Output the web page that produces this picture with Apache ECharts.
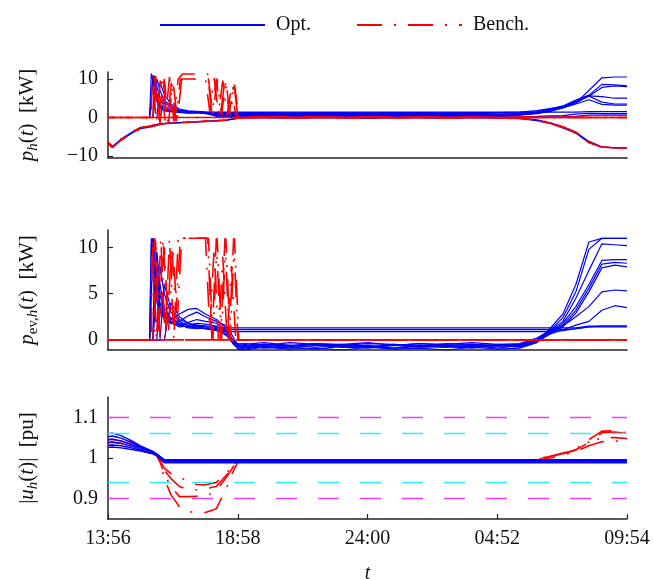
<!DOCTYPE html>
<html>
<head>
<meta charset="utf-8">
<script src="https://cdn.jsdelivr.net/npm/echarts@6.0.0/dist/echarts.min.js"></script>
<style>
  html, body { margin: 0; padding: 0; background: #fff; }
  #chart { width: 653px; height: 579px; }
</style>
</head>
<body>
<div id="chart"></div>
<script>
// x axis: minutes since 13:56
const tickPos = [0, 299.5, 599, 898.5, 1198];
const tickLabels = ["13:56", "18:58", "24:00", "04:52", "09:54"];

// common time grid (minutes)
const T = [0, 10, 30, 55, 75, 96, 100, 104, 108, 113, 120, 130, 145, 165, 185, 205, 225, 250, 275, 290,
  300, 315, 360, 420, 480, 540, 600, 660, 720, 780, 840, 900, 950, 990, 1020, 1050, 1080, 1110, 1140, 1170, 1198];

// on/off switching of the benchmark chargers
const oscT1 = [0, 100, 102, 112, 122, 132, 142, 152, 162, 172, 230, 240, 250, 260, 270, 280, 290, 300, 1198];
const oscT2 = [0, 104, 107, 117, 127, 137, 147, 157, 167, 177, 225, 235, 245, 255, 265, 275, 285, 295, 305, 1198];
const oscT3 = [0, 108, 110, 120, 130, 140, 150, 160, 170, 232, 242, 252, 262, 272, 282, 292, 302, 1198];

const zeroT = [0, 1198];
const zeroV = [0, 0];

// ---- p_h(t) [kW], Opt.
const pA = [0, 0, 0, 0, 0, 0, 11.4, 9.5, 6.5, 4.0, 2.5, 1.8, 1.5, 1.6, 1.5, 1.6, 1.4, 1.3, 1.3, 1.2,
  1.3, 1.3, 1.3, 1.2, 1.3, 1.3, 1.2, 1.3, 1.3, 1.2, 1.3, 1.3, 1.4, 1.8, 2.3, 2.8, 3.8, 7.0, 10.3, 10.5, 10.5];
const pB = [0, 0, 0, 0, 0, 0, 0, 11.0, 9.0, 6.0, 3.5, 2.2, 1.8, 1.4, 1.2, 1.3, 1.1, 1.0, 0.9, 0.8,
  0.9, 0.8, 0.9, 0.8, 0.9, 0.8, 0.9, 0.8, 0.9, 0.8, 0.9, 0.8, 1.0, 1.5, 2.2, 3.0, 4.5, 5.8, 8.6, 8.5, 8.2];
const pC = [0, 0, 0, 0, 0, 0, 0, 0, 10.8, 8.0, 5.0, 2.8, 2.0, 1.8, 1.6, 1.5, 1.3, 0.7, 0.6, 0.5,
  0.6, 0.5, 0.6, 0.5, 0.6, 0.5, 0.6, 0.5, 0.6, 0.5, 0.6, 0.5, 0.7, 1.2, 2.0, 2.8, 4.2, 5.5, 7.8, 8.2, 8.0];
const pD = [0, 0, 0, 0, 0, 0, 0, 9.8, 8.0, 5.0, 3.0, 2.0, 1.6, 1.3, 1.1, 1.2, 1.0, 0.5, 0.4, 0.5,
  0.4, 0.5, 0.4, 0.5, 0.4, 0.5, 0.4, 0.5, 0.4, 0.5, 0.4, 0.5, 0.6, 1.0, 1.6, 2.5, 3.8, 5.6, 5.4, 5.0, 5.0];
const pE = [0, 0, 0, 0, 0, 0, 0, 0, 0, 10.0, 7.0, 4.5, 3.0, 1.9, 1.5, 1.4, 1.2, 0.6, 0.7, 0.6,
  0.7, 0.6, 0.7, 0.6, 0.7, 0.6, 0.7, 0.6, 0.7, 0.6, 0.7, 0.6, 0.8, 1.1, 1.6, 2.6, 4.2, 5.5, 4.0, 3.5, 3.5];
const pF = [0, 0, 0, 0, 0, 0, 0, 0, 0, 0, 9.0, 6.0, 3.5, 2.2, 1.7, 1.5, 1.3, 1.0, 1.0, 1.1,
  1.0, 1.0, 1.1, 1.0, 1.0, 1.1, 1.0, 1.0, 1.1, 1.0, 1.0, 1.1, 1.1, 1.4, 1.9, 2.5, 3.5, 4.6, 3.4, 3.2, 3.2];
const pG = [0, 0, 0, 0, 0, 0, 0, 0, 7.0, 5.0, 3.0, 2.0, 1.6, 1.5, 1.5, 1.4, 1.4, 1.4, 1.4, 1.4,
  1.4, 1.4, 1.4, 1.4, 1.4, 1.4, 1.4, 1.4, 1.4, 1.4, 1.4, 1.4, 1.4, 1.4, 1.4, 1.4, 1.4, 1.5, 1.5, 1.5, 1.5];
const pH = [0, 0, 0, 0, 0, 0, 0, 0, 0, 0, 0, 4.0, 2.5, 1.8, 1.6, 1.5, 1.3, 0.3, 0.2, 0.3,
  0.2, 0.3, 0.2, 0.3, 0.2, 0.3, 0.2, 0.3, 0.2, 0.3, 0.2, 0.3, 0.2, 0.3, 0.4, 0.5, 0.9, 1.1, 1.0, 1.0, 1.0];
const pI = [0, 0, 0, 0, 0, 0, 0, 0, 0, 0, 0, 0, 0, 0, 0, 0, 0, 0, 0, 0,
  0, 0, 0, 0, 0, 0, 0, 0, 0, 0, 0, 0, 0, 0, 0.1, 0.2, 0.3, 0.6, 0.6, 0.6, 0.6];
// households with PV only
const pvA = [-6.7, -7.8, -5.9, -4.1, -2.9, -2.5, -2.4, -2.3, -2.2, -2.0, -1.8, -1.6, -1.5, -1.4, -1.3, -1.2, -1.0, -0.9, -0.7, -0.4,
  -0.1, 0, 0, 0, 0, 0, 0, 0, 0, 0, 0, -0.1, -0.2, -0.6, -1.3, -2.4, -3.8, -6.2, -7.6, -7.9, -7.9];
const pvB = [-6.4, -7.5, -5.6, -3.8, -2.6, -2.2, -2.1, -2.0, -1.9, -1.8, -1.6, -1.5, -1.4, -1.3, -1.2, -1.1, -0.9, -0.8, -0.6, -0.3,
  -0.2, -0.1, -0.1, -0.2, -0.1, -0.1, -0.2, -0.1, -0.1, -0.2, -0.1, -0.1, -0.3, -0.8, -1.5, -2.7, -4.1, -6.5, -7.7, -7.8, -7.8];
// p_h, Bench.
const bA1 = [0, 0, 11.3, -1.3, 11.0, -1.2, 10.5, -1.0, 10.0, 11.3, 11.3, 0.8, 10.0, 1.0, 9.8, 1.2, 9.0, 0.2, 0];
const bB1 = [0, 0, 10.5, -1.5, 10.2, -1.3, 9.8, -1.0, 10.0, 10.0, 10.0, 1.5, 10.2, 1.0, 9.6, 0.6, 8.0, 0.3, 0, 0];
const bC1 = [0, 0, 10.8, -1.4, 10.0, -1.2, 9.8, -0.8, 10.0, 10.0, 0.8, 10.0, 0.6, 9.5, 0.5, 8.5, 0.2, 0];

// ---- p_ev,h(t) [kW], Opt.
const eA = [0, 0, 0, 0, 0, 0, 11, 8.5, 6, 4, 3, 2.5, 2.2, 2.8, 3.3, 3.4, 2.8, 2.2, 1.2, -0.5,
  -0.9, -1.0, -0.7, -0.9, -0.6, -0.8, -0.9, -0.6, -0.8, -0.7, -0.9, -0.6, -0.8, -0.2, 1.2, 2.8, 6.0, 10.6, 11, 11, 11];
const eB = [0, 0, 0, 0, 0, 0, 0, 11, 9, 6, 3.5, 2.6, 2.0, 2.0, 2.6, 3.0, 2.5, 2.0, 1.5, 0.2,
  -0.6, -0.8, -0.5, -0.7, -0.4, -0.6, -0.8, -0.5, -0.7, -0.6, -0.5, -0.7, -0.5, 0.0, 1.0, 2.4, 5.2, 9.8, 11, 11, 11];
const eC = [0, 0, 0, 0, 0, 0, 10.5, 11, 7, 4.5, 3.2, 2.2, 1.8, 1.6, 1.9, 2.2, 2.0, 1.8, 1.0, -0.2,
  -0.4, -0.5, -0.3, -0.6, -0.4, -0.5, -0.3, -0.6, -0.4, -0.5, -0.3, -0.5, -0.4, 0.2, 1.0, 2.0, 4.5, 7.5, 10.4, 10.3, 10.2];
const eD = [0, 0, 0, 0, 0, 0, 0, 0, 11, 8, 5, 3, 2.4, 1.8, 1.6, 1.8, 1.7, 1.5, 0.8, -0.3,
  -0.7, -0.9, -0.6, -0.8, -1.0, -0.7, -0.6, -0.9, -0.7, -0.8, -0.6, -0.9, -0.6, 0.0, 0.9, 1.8, 3.6, 6.0, 8.6, 8.7, 8.7];
const eE = [0, 0, 0, 0, 0, 0, 0, 10, 10.8, 7, 4, 2.8, 1.9, 1.4, 1.5, 1.6, 1.5, 1.4, 0.9, -0.1,
  -0.5, -0.4, -0.6, -0.3, -0.5, -0.6, -0.4, -0.5, -0.7, -0.4, -0.5, -0.6, -0.5, 0.1, 0.8, 1.6, 3.2, 5.6, 8.2, 8.4, 8.3];
const eF = [0, 0, 0, 0, 0, 0, 0, 0, 0, 9.5, 6, 3.5, 2.3, 1.7, 1.3, 1.2, 1.3, 1.2, 0.6, -0.4,
  -1.0, -1.1, -0.8, -1.0, -0.9, -1.1, -0.8, -1.0, -0.9, -1.1, -0.8, -1.0, -0.9, -0.3, 0.7, 1.4, 2.9, 5.2, 7.8, 8.1, 7.9];
const eG = [0, 0, 0, 0, 0, 0, 0, 0, 0, 0, 8, 5, 3, 2.0, 1.5, 1.4, 1.2, 1.1, 0.5, -0.3,
  -0.6, -0.7, -0.5, -0.6, -0.8, -0.5, -0.7, -0.6, -0.4, -0.6, -0.7, -0.5, -0.6, -0.1, 0.8, 1.5, 2.5, 3.6, 5.2, 5.4, 5.3];
const eH = [0, 0, 0, 0, 0, 0, 0, 0, 0, 0, 0, 6, 3.5, 2.2, 1.8, 1.6, 1.5, 1.2, 0.4, -0.5,
  -0.8, -0.6, -0.9, -0.7, -0.5, -0.8, -0.7, -0.9, -0.6, -0.8, -0.7, -0.6, -0.7, -0.2, 0.6, 1.1, 1.6, 2.0, 3.2, 3.7, 3.5];
const eI = [0, 0, 0, 0, 0, 0, 0, 0, 8, 6, 3.5, 2.4, 1.8, 1.5, 1.4, 1.5, 1.4, 1.3, 1.3, 1.3,
  1.3, 1.3, 1.3, 1.3, 1.3, 1.3, 1.3, 1.3, 1.3, 1.3, 1.3, 1.3, 1.3, 1.3, 1.3, 1.3, 1.3, 1.5, 1.5, 1.5, 1.5];
const eJ = [0, 0, 0, 0, 0, 0, 0, 0, 0, 7, 5, 3, 2.0, 1.6, 1.4, 1.3, 1.2, 1.1, 1.1, 1.1,
  1.1, 1.1, 1.1, 1.1, 1.1, 1.1, 1.1, 1.1, 1.1, 1.1, 1.1, 1.1, 1.1, 1.1, 1.1, 1.1, 1.2, 1.4, 1.5, 1.5, 1.5];
const eK = [0, 0, 0, 0, 0, 0, 0, 0, 0, 0, 0, 0, 4, 2.5, 1.8, 1.5, 1.2, 1.0, 0.9, 0.9,
  0.9, 0.9, 0.9, 0.9, 0.9, 0.9, 0.9, 0.9, 0.9, 0.9, 0.9, 0.9, 0.9, 0.9, 0.9, 1.0, 1.2, 1.4, 1.4, 1.4, 1.4];
// p_ev,h, Bench.
const bA2 = [0, 0, 11, 0, 11, 0, 11, 0, 11, 11, 11, 0, 11, 0, 11, 0, 11, 0, 0];
const bB2 = [0, 0, 11, 1, 11, 2, 10, 3, 11, 11, 11, 1, 10, 0, 9, 0, 8, 0, 0, 0];
const bC2 = [0, 0, 11, 0, 10, 1, 10, 2, 11, 11, 0, 11, 0, 11, 0, 11, 0, 0];

// ---- |u_h(t)| [pu], Opt.
const vA = [1.060, 1.061, 1.055, 1.042, 1.030, 1.020, 1.018, 1.016, 1.014, 1.010, 1.004, 0.996, 0.996, 0.996, 0.996, 0.996, 0.996, 0.996, 0.996, 0.996,
  0.996, 0.996, 0.996, 0.996, 0.996, 0.996, 0.996, 0.996, 0.996, 0.996, 0.996, 0.996, 0.996, 0.996, 0.996, 0.996, 0.996, 0.996, 0.996, 0.996, 0.996];
const vB = [1.052, 1.054, 1.049, 1.038, 1.027, 1.018, 1.017, 1.015, 1.013, 1.009, 1.003, 0.994, 0.994, 0.994, 0.994, 0.994, 0.994, 0.994, 0.994, 0.994,
  0.994, 0.994, 0.994, 0.994, 0.994, 0.994, 0.994, 0.994, 0.994, 0.994, 0.994, 0.994, 0.994, 0.994, 0.994, 0.994, 0.994, 0.994, 0.994, 0.994, 0.994];
const vC = [1.045, 1.046, 1.042, 1.033, 1.025, 1.017, 1.016, 1.014, 1.012, 1.008, 1.002, 0.993, 0.993, 0.993, 0.993, 0.993, 0.993, 0.993, 0.993, 0.993,
  0.993, 0.993, 0.993, 0.993, 0.993, 0.993, 0.993, 0.993, 0.993, 0.993, 0.993, 0.993, 0.993, 0.993, 0.993, 0.993, 0.993, 0.993, 0.993, 0.993, 0.993];
const vD = [1.038, 1.039, 1.036, 1.029, 1.022, 1.015, 1.014, 1.013, 1.011, 1.007, 1.001, 0.991, 0.991, 0.991, 0.991, 0.991, 0.991, 0.991, 0.991, 0.991,
  0.991, 0.991, 0.991, 0.991, 0.991, 0.991, 0.991, 0.991, 0.991, 0.991, 0.991, 0.991, 0.991, 0.991, 0.991, 0.991, 0.991, 0.991, 0.991, 0.991, 0.991];
const vE = [1.031, 1.032, 1.030, 1.025, 1.019, 1.013, 1.012, 1.011, 1.010, 1.006, 1.000, 0.990, 0.990, 0.990, 0.990, 0.990, 0.990, 0.990, 0.990, 0.990,
  0.990, 0.990, 0.990, 0.990, 0.990, 0.990, 0.990, 0.990, 0.990, 0.990, 0.990, 0.990, 0.990, 0.990, 0.990, 0.990, 0.990, 0.990, 0.990, 0.990, 0.990];
const vF = [1.026, 1.027, 1.025, 1.021, 1.017, 1.012, 1.011, 1.010, 1.009, 1.005, 0.999, 0.988, 0.988, 0.988, 0.988, 0.988, 0.988, 0.988, 0.988, 0.988,
  0.988, 0.988, 0.988, 0.988, 0.988, 0.988, 0.988, 0.988, 0.988, 0.988, 0.988, 0.988, 0.988, 0.988, 0.988, 0.988, 0.988, 0.988, 0.988, 0.988, 0.988];
// |u_h|, Bench.
const rvA = [1.045, 1.046, 1.042, 1.033, 1.025, 1.017, 1.016, 1.014, 1.012, 1.005, 0.995, 0.975, 0.962, 0.955, 0.940, 0.935, 0.934, 0.940, 0.965, 0.985,
  0.993, 0.993, 0.993, 0.993, 0.993, 0.993, 0.993, 0.993, 0.993, 0.993, 0.993, 0.993, 0.993, 0.998, 1.004, 1.012, 1.022, 1.045, 1.066, 1.067, 1.062];
const rvB = [1.038, 1.039, 1.036, 1.029, 1.022, 1.015, 1.014, 1.013, 1.011, 1.007, 0.990, 0.960, 0.930, 0.905, 0.905, 0.906, 0.905, 0.920, 0.955, 0.980,
  0.993, 0.993, 0.993, 0.993, 0.993, 0.993, 0.993, 0.993, 0.993, 0.993, 0.993, 0.993, 0.993, 0.996, 1.002, 1.010, 1.020, 1.038, 1.050, 1.050, 1.048];
const rvC = [1.031, 1.032, 1.030, 1.025, 1.019, 1.013, 1.012, 1.011, 1.010, 1.006, 0.990, 0.950, 0.910, 0.880, 0.868, 0.866, 0.866, 0.875, 0.930, 0.970,
  0.990, 0.992, 0.992, 0.992, 0.992, 0.992, 0.992, 0.992, 0.992, 0.992, 0.992, 0.992, 0.992, 0.995, 1.000, 1.007, 1.016, 1.030, 1.040, 1.042, 1.040];
const rvD = [1.052, 1.054, 1.049, 1.038, 1.027, 1.018, 1.017, 1.015, 1.013, 1.009, 0.995, 0.970, 0.950, 0.930, 0.922, 0.922, 0.924, 0.930, 0.960, 0.985,
  0.993, 0.993, 0.993, 0.993, 0.993, 0.993, 0.993, 0.993, 0.993, 0.993, 0.993, 0.993, 0.993, 0.997, 1.003, 1.011, 1.020, 1.040, 1.062, 1.064, 1.060];

const vLimOuter = [0.9, 1.1];
const vLimInner = [0.94, 1.06];

const FONT = "Liberation Serif";
const INK = "#111";

function pts(xs, ys) {
  return xs.map((x, i) => [x, ys[i]]);
}

function opt(k, ys, z, w) {
  return {
    name: "Opt.", type: "line", xAxisIndex: k, yAxisIndex: k,
    data: pts(T, ys), symbol: "none", silent: true, z: z,
    color: "#0000ff",
    lineStyle: { color: "#0000ff", width: w || 1.2 },
  };
}

function bench(k, xs, ys, z, offset) {
  return {
    name: "Bench.", type: "line", xAxisIndex: k, yAxisIndex: k,
    data: pts(xs, ys), symbol: "none", silent: true, z: z,
    color: "#ff0000",
    lineStyle: { color: "#ff0000", width: 1.6, type: [25, 12, 2, 12], dashOffset: offset || 0 },
  };
}

const grids = [
  { left: 108, width: 519, top: 72, height: 86, outerBoundsMode: "none" },
  { left: 108, width: 519, top: 230, height: 120, outerBoundsMode: "none" },
  { left: 108, width: 519, top: 397, height: 122, outerBoundsMode: "none" },
];
const yRanges = [[-10.5, 11.8], [-1.1, 11.9], [0.85, 1.15]];
const yTicks = [[-10, 0, 10], [0, 5, 10], [0.9, 1, 1.1]];

const nameRich = {
  i: { fontFamily: FONT, fontStyle: "italic", fontSize: 21, lineHeight: 27, color: INK },
  n: { fontFamily: FONT, fontSize: 21, lineHeight: 27, color: INK },
  s: { fontFamily: FONT, fontSize: 15, lineHeight: 15, verticalAlign: "bottom", color: INK },
  si: { fontFamily: FONT, fontStyle: "italic", fontSize: 15, lineHeight: 15, verticalAlign: "bottom", color: INK },
};
const yNames = [
  "{i|p}{si|h}{n|(}{i|t}{n|)  [kW]}",
  "{i|p}{s|ev,}{si|h}{n|(}{i|t}{n|)  [kW]}",
  "{n||}{i|u}{si|h}{n|(}{i|t}{n|)|  [pu]}",
];

const axisLine = { show: true, onZero: false, lineStyle: { color: "#222", width: 1.5 } };

const xAxes = grids.map((g, k) => ({
  type: "value", gridIndex: k, min: 0, max: 1198,
  axisLine: axisLine,
  splitLine: { show: false },
  axisTick: k === 2
    ? { show: true, inside: true, length: 5, customValues: tickPos, lineStyle: { color: "#222", width: 1.2 } }
    : { show: false },
  axisLabel: k === 2
    ? {
        show: true, customValues: tickPos, margin: 10,
        fontFamily: FONT, fontSize: 20, color: INK,
        formatter: (v) => tickLabels[tickPos.findIndex((p) => Math.abs(p - v) < 1)],
      }
    : { show: false },
  name: k === 2 ? "t" : "",
  nameLocation: "middle", nameGap: 45,
  nameTextStyle: { fontFamily: FONT, fontStyle: "italic", fontSize: 20, color: INK },
}));

const yAxes = grids.map((g, k) => ({
  type: "value", gridIndex: k, min: yRanges[k][0], max: yRanges[k][1],
  axisLine: axisLine,
  splitLine: { show: false },
  axisTick: { show: true, inside: true, length: 5, customValues: yTicks[k], lineStyle: { color: "#222", width: 1.2 } },
  axisLabel: {
    customValues: yTicks[k], margin: 10,
    fontFamily: FONT, fontSize: 20, color: INK,
    formatter: (v) => (v < 0 ? "\u2212" + Math.abs(v) : String(v)),
  },
  name: yNames[k], nameLocation: "middle", nameRotate: 90, nameGap: 67,
  nameTextStyle: { rich: nameRich },
}));

const limitSeries = {
  name: "limits", type: "line", xAxisIndex: 2, yAxisIndex: 2,
  data: [], symbol: "none", silent: true, z: 1,
  markLine: {
    silent: true, symbol: ["none", "none"], label: { show: false },
    lineStyle: { type: [21, 21], width: 1.3 },
    data: [
      ...vLimOuter.map((v) => ({ yAxis: v, lineStyle: { color: "#f03cf0", type: [21, 21], width: 1.3 } })),
      ...vLimInner.map((v) => ({ yAxis: v, lineStyle: { color: "#2ff0f0", type: [21, 21], width: 1.3 } })),
    ],
  },
};

const series = [
  // panel 1
  opt(0, pA, 2), opt(0, pB, 2), opt(0, pC, 2), opt(0, pD, 2), opt(0, pE, 2),
  opt(0, pF, 2), opt(0, pG, 2), opt(0, pH, 2), opt(0, pI, 2), opt(0, pvA, 2), opt(0, pvB, 2),
  bench(0, zeroT, zeroV, 3), bench(0, zeroT, zeroV, 3, 25),
  bench(0, T, pvA, 3), bench(0, T, pvB, 3, 20),
  bench(0, oscT1, bA1, 3), bench(0, oscT2, bB1, 3, 18), bench(0, oscT3, bC1, 3, 33),
  // panel 2
  opt(1, eA, 2), opt(1, eB, 2), opt(1, eC, 2), opt(1, eD, 2), opt(1, eE, 2), opt(1, eF, 2),
  opt(1, eG, 2), opt(1, eH, 2), opt(1, eI, 2), opt(1, eJ, 2), opt(1, eK, 2),
  bench(1, zeroT, zeroV, 3), bench(1, zeroT, zeroV, 3, 25),
  bench(1, oscT1, bA2, 3), bench(1, oscT2, bB2, 3, 18), bench(1, oscT3, bC2, 3, 33),
  // panel 3
  limitSeries,
  bench(2, T, rvA, 2), bench(2, T, rvB, 2, 10), bench(2, T, rvC, 2, 20), bench(2, T, rvD, 2, 30),
  opt(2, vA, 3, 1.4), opt(2, vB, 3, 1.4), opt(2, vC, 3, 1.4), opt(2, vD, 3, 1.4), opt(2, vE, 3, 1.4), opt(2, vF, 3, 1.4),
];

const myChart = echarts.init(document.getElementById("chart"), null, { renderer: "canvas" });
myChart.setOption({
  animation: false,
  backgroundColor: "#fff",
  legend: {
    data: ["Opt.", "Bench."],
    top: 10, left: 154,
    itemWidth: 105, itemHeight: 12, itemGap: 45,
    selectedMode: false,
    itemStyle: { opacity: 0 },
    textStyle: { fontFamily: FONT, fontSize: 20, color: INK, padding: [0, 0, 0, 6] },
  },
  grid: grids,
  xAxis: xAxes,
  yAxis: yAxes,
  series: series,
});
</script>
</body>
</html>
